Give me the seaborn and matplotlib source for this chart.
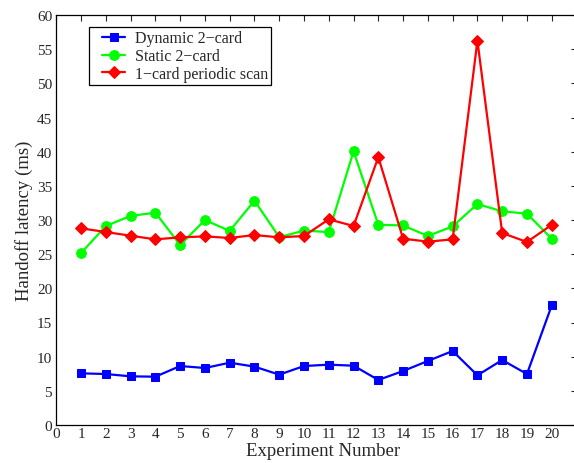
import matplotlib
matplotlib.use("Agg")
import matplotlib.pyplot as plt
import seaborn as sns
import pandas as pd
from matplotlib.legend_handler import HandlerLine2D
from matplotlib.lines import Line2D

experiments = list(range(1, 21))
dynamic_2card = [7.56, 7.46, 7.12, 7.07, 8.63, 8.34, 9.12, 8.54, 7.37, 8.63,
                 8.83, 8.68, 6.59, 7.9, 9.37, 10.83, 7.27, 9.51, 7.46, 17.5]
static_2card = [25.17, 29.12, 30.6, 31.07, 26.34, 30.0, 28.4, 32.83, 27.5, 28.44,
                28.24, 40.05, 29.3, 29.2, 27.66, 29.07, 32.34, 31.27, 30.93, 27.27]
periodic_scan = [28.78, 28.24, 27.7, 27.17, 27.46, 27.6, 27.37, 27.8, 27.46, 27.66,
                 30.1, 29.12, 39.2, 27.27, 26.83, 27.17, 56.24, 28.1, 26.78, 29.3]
series_names = ["Dynamic 2\u2212card", "Static 2\u2212card", "1\u2212card periodic scan"]
x_ticks = list(range(0, 21))
y_ticks = list(range(0, 61, 5))

sns.set_style("white")
plt.rcParams['font.family'] = ['Liberation Serif', 'DejaVu Serif']
plt.rcParams['mathtext.fontset'] = 'stix'

fig = plt.figure(figsize=(5.74, 4.64), dpi=100)
# axes extends slightly past the right edge of the figure (as in the reference crop)
ax = fig.add_axes([56.3 / 574, 38 / 464, 520.2 / 574, 410 / 464])

df = pd.DataFrame({
    "x": experiments * 3,
    "y": dynamic_2card + static_2card + periodic_scan,
    "series": [series_names[0]] * 20 + [series_names[1]] * 20 + [series_names[2]] * 20,
})

colors = ["#0000ff", "#00ff00", "#ff0000"]
markers = ["s", "o", "D"]
msizes = [6, 7, 6.5]
for name, c, m, ms in zip(series_names, colors, markers, msizes):
    sub = df[df["series"] == name]
    sns.lineplot(data=sub, x="x", y="y", ax=ax, color=c, marker=m, markersize=ms,
                 markeredgecolor=c, linewidth=1.6, label=name)

ax.set_xlim(0, 21)
ax.set_ylim(0, 60)
ax.set_xticks(x_ticks)
ax.set_yticks(y_ticks)
ax.tick_params(direction="in", top=True, right=True, labelsize=11, length=4.5, width=0.8)
ax.tick_params(axis="x", pad=1.5)
ax.tick_params(axis="y", pad=3)
for s in ax.spines.values():
    s.set_visible(True)
    s.set_color("black")
    s.set_linewidth(0.9)
ax.set_xlabel("Experiment Number", fontsize=13.5)
ax.xaxis.set_label_coords(0.513, -0.042, transform=ax.transAxes)
ax.xaxis.label.set_verticalalignment("top")
ax.set_ylabel("Handoff latency (ms)", fontsize=13.5, labelpad=3)

handles, labels = ax.get_legend_handles_labels()
leg = ax.legend(handles, labels, loc="upper left", bbox_to_anchor=(32.7 / 520.2, 0.97), fontsize=11.5,
                frameon=True, fancybox=False, edgecolor="black", framealpha=1,
                borderpad=0.2, labelspacing=0.1, handlelength=2.06, handletextpad=0.62,
                borderaxespad=0,
                handler_map={Line2D: HandlerLine2D(xpad=0.62)})
leg.get_frame().set_linewidth(0.9)

fig.savefig("out.png", dpi=100)
